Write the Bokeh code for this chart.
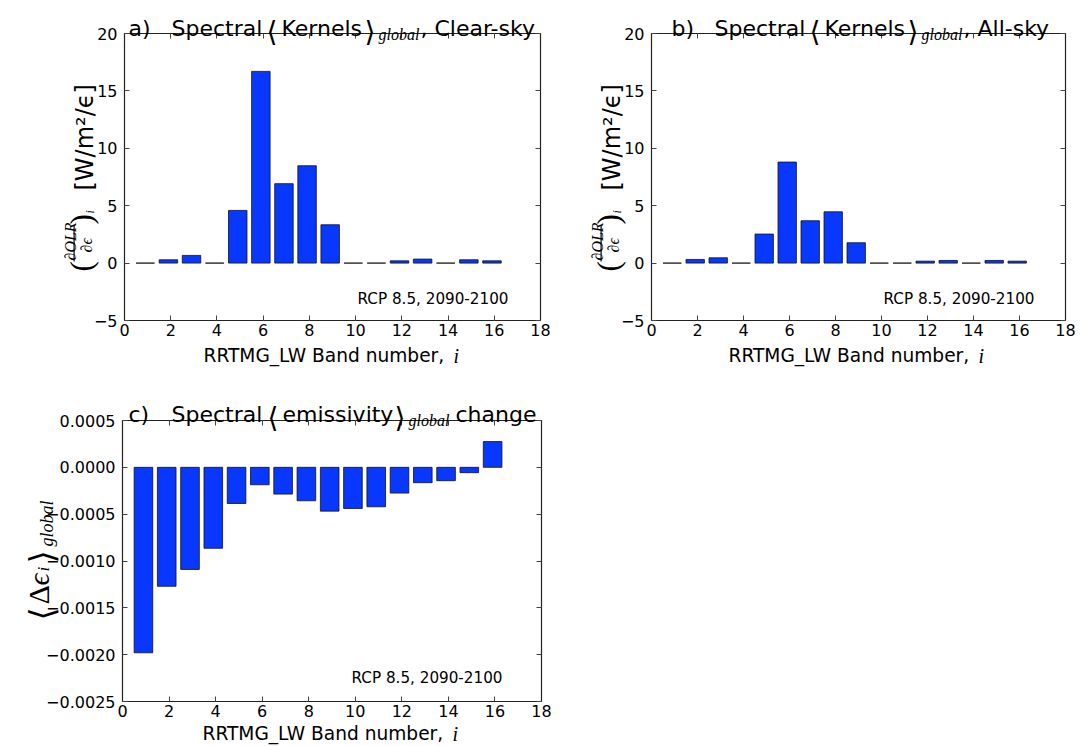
import math
from bokeh.plotting import figure
from bokeh.models import (ColumnDataSource, Label, LinearAxis, FixedTicker, BoxAnnotation, Range1d)
from bokeh.layouts import column, row
from bokeh.transform import dodge
from bokeh.embed import file_html
from bokeh.resources import INLINE

# ---------------- data ----------------
bands = [1, 2, 3, 4, 5, 6, 7, 8, 9, 10, 11, 12, 13, 14, 15, 16]
kernel_clear = [0.0, 0.29, 0.67, 0.0, 4.59, 16.7, 6.92, 8.48, 3.34, 0.0, 0.0, 0.20, 0.35, 0.0, 0.29, 0.20]
kernel_all = [0.0, 0.32, 0.46, 0.0, 2.53, 8.8, 3.69, 4.47, 1.77, 0.0, 0.0, 0.17, 0.23, 0.0, 0.23, 0.17]
emis_change = [-0.00198, -0.00127, -0.00109, -0.000864, -0.000386, -0.000186, -0.000286, -0.000357,
               -0.000468, -0.000439, -0.000421, -0.000275, -0.000164, -0.000143, -0.000057, 0.000275]

x_box = (0, 18)
x_ticks = [0, 2, 4, 6, 8, 10, 12, 14, 16, 18]
k_box = (-5, 20)
k_yticks = [-5, 0, 5, 10, 15, 20]
k_ytick_labels = ["\u22125", "0", "5", "10", "15", "20"]
e_box = (-0.0025, 0.0005)
e_yticks = [-0.0025, -0.0020, -0.0015, -0.0010, -0.0005, 0.0, 0.0005]
e_ytick_labels = ["\u22120.0025", "\u22120.0020", "\u22120.0015", "\u22120.0010", "\u22120.0005", "0.0000", "0.0005"]
note = "RCP 8.5, 2090-2100"

BAR = "#0838ff"
SANS = "DejaVu Sans"
SERIF = "Liberation Serif"
TICK_FS = "16px"
R = math.pi / 2
LANG = "\u27e8"
RANG = "\u27e9"


class Panel:
    """A figure whose frame fills the canvas; the axes box sits at given page pixels."""
    def __init__(self, cx0, cy0, w, h, bx0, bx1, by0, by1, xbox, ybox, yticks, ylabels):
        self.cx0, self.cy0, self.w, self.h = cx0, cy0, w, h
        sx = (xbox[1] - xbox[0]) / (bx1 - bx0)
        sy = (ybox[1] - ybox[0]) / (by1 - by0)
        self.x0 = xbox[0] - (bx0 - cx0) * sx
        self.x1 = xbox[1] + (cx0 + w - bx1) * sx
        self.y1 = ybox[1] + (by0 - cy0) * sy
        self.y0 = ybox[0] - (cy0 + h - by1) * sy
        p = figure(width=w, height=h, x_range=Range1d(self.x0, self.x1),
                   y_range=Range1d(self.y0, self.y1), output_backend="svg",
                   toolbar_location=None, min_border=0, x_axis_location=None,
                   y_axis_location=None, title=None)
        p.outline_line_color = None
        p.background_fill_color = "white"
        p.border_fill_color = "white"
        for g in p.grid:
            g.visible = False
        p.renderers = [r for r in p.renderers if r.__class__.__name__ != "Grid"]
        self.p = p
        common = dict(major_tick_in=5, major_tick_out=0, minor_tick_line_color=None,
                      axis_line_color="#222222", axis_line_width=1.2,
                      major_tick_line_color="#444444",
                      major_label_text_font=SANS, major_label_text_font_size=TICK_FS,
                      major_label_text_color="black")
        bottom = LinearAxis(fixed_location=ybox[0], bounds=xbox, ticker=FixedTicker(ticks=x_ticks),
                            major_label_overrides={t: str(t) for t in x_ticks},
                            major_label_standoff=3, **common)
        left = LinearAxis(fixed_location=xbox[0], bounds=ybox, ticker=FixedTicker(ticks=yticks),
                          major_label_overrides={t: l for t, l in zip(yticks, ylabels)},
                          major_label_standoff=7, **common)
        hidden = dict(common)
        hidden["major_label_text_color"] = None
        top = LinearAxis(fixed_location=ybox[1], bounds=xbox, ticker=FixedTicker(ticks=x_ticks), **hidden)
        right = LinearAxis(fixed_location=xbox[1], bounds=ybox, ticker=FixedTicker(ticks=yticks), **hidden)
        p.add_layout(bottom, "below")
        p.add_layout(left, "left")
        p.add_layout(top, "above")
        p.add_layout(right, "right")

    def xy(self, px, py):
        x = self.x0 + (px - self.cx0) / self.w * (self.x1 - self.x0)
        y = self.y1 - (py - self.cy0) / self.h * (self.y1 - self.y0)
        return x, y

    def text(self, txt, px, py, size, font=SANS, style="normal", angle=0.0, align="left",
             baseline="alphabetic"):
        x, y = self.xy(px, py)
        self.p.add_layout(Label(x=x, y=y, text=txt, text_font=font, text_font_size=f"{size}px",
                                text_font_style=style, angle=angle, text_align=align,
                                text_baseline=baseline, text_color="black"))

    def box(self, px0, px1, py0, py1):
        x0, y0 = self.xy(px0, py1)
        x1, y1 = self.xy(px1, py0)
        self.p.add_layout(BoxAnnotation(left=x0, right=x1, bottom=y0, top=y1, fill_color="black",
                                        fill_alpha=1.0, line_color=None))

    def bars(self, vals):
        src = ColumnDataSource(dict(band=bands, val=vals))
        self.p.vbar(x=dodge("band", -0.1), width=0.8, top="val", bottom=0, source=src,
                    fill_color=BAR, line_color="#111111", line_width=0.8)


A = Panel(0, 0, 553, 373, 124, 540, 33, 320, x_box, k_box, k_yticks, k_ytick_labels)
A.bars(kernel_clear)
B = Panel(553, 0, 528, 373, 651, 1065, 33, 320, x_box, k_box, k_yticks, k_ytick_labels)
B.bars(kernel_all)
C = Panel(0, 373, 553, 372, 122, 541, 420, 701, x_box, e_box, e_yticks, e_ytick_labels)
C.bars(emis_change)

# titles
A.text("a)", 128, 28, 22)
A.text("Spectral", 171, 28, 22)
A.text(LANG, 266, 31, 28)
A.text("Kernels", 281, 28, 22)
A.text(RANG, 364, 31, 28)
A.text("global", 378, 34, 16, font=SERIF, style="italic")
A.text(", Clear-sky", 420, 28, 22)

B.text("b)", 671, 28, 22)
B.text("Spectral", 714, 28, 22)
B.text(LANG, 809, 31, 28)
B.text("Kernels", 824, 28, 22)
B.text(RANG, 907, 31, 28)
B.text("global", 921, 34, 16, font=SERIF, style="italic")
B.text(", All-sky", 963, 28, 22)

C.text("c)", 128, 414, 22)
C.text("Spectral", 171, 414, 22)
C.text(LANG, 267, 417, 28)
C.text("emissivity", 282, 414, 22)
C.text(RANG, 394, 417, 28)
C.text("global", 408, 420, 16, font=SERIF, style="italic")
C.text("change", 455, 414, 22)

# x labels
for P, x0, base in ((A, 203, 355), (B, 728, 355), (C, 202, 733)):
    P.text("RRTMG_LW Band number,", x0, base, 18.6)
    P.text("i", x0 + 250, base, 20, font=SERIF, style="italic")

# notes
A.text(note, 508, 298, 15.2, align="right")
B.text(note, 1034, 298, 15.2, align="right")
C.text(note, 502, 677, 15.2, align="right")

# y labels of kernel panels
for P, dx in ((A, 0), (B, 527)):
    P.text("(", 81 + dx, 271, 31, font=SERIF, angle=R)
    P.text("\u2202OLR", 70 + dx, 260, 16, font=SERIF, style="italic", angle=R)
    P.box(73 + dx, 74.2 + dx, 225, 261)
    P.text("\u2202\u03f5", 86 + dx, 252, 16, font=SERIF, style="italic", angle=R)
    P.text(")", 81 + dx, 224, 31, font=SERIF, angle=R)
    P.text("i", 89 + dx, 213, 12, font=SERIF, style="italic", angle=R)
    P.text("[W/m\u00b2/\u03f5]", 84 + dx, 190, 24, angle=R)

# y label of emissivity panel
C.text(LANG, 41, 620, 34, angle=R)
C.text("\u0394", 38, 604, 30, font=SERIF, angle=R)
C.text("\u03f5", 38, 585, 30, font=SERIF, style="italic", angle=R)
C.text("i", 43, 571, 17, font=SERIF, style="italic", angle=R)
C.text(RANG, 41, 563, 34, angle=R)
C.text("global", 46, 546, 18, font=SERIF, style="italic", angle=R)

layout = column(row(A.p, B.p), C.p)
open("out.html", "w").write(file_html(layout, INLINE))
